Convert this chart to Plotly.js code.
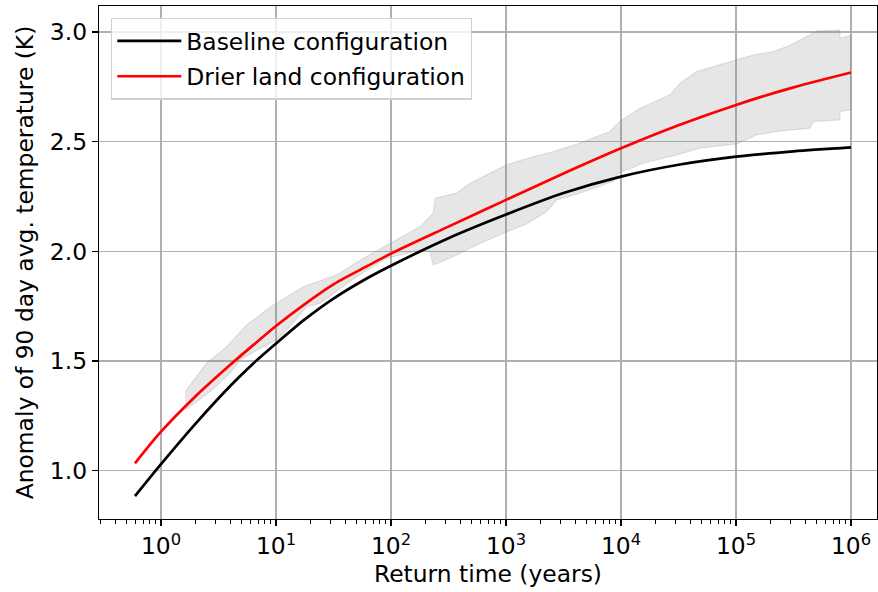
<!DOCTYPE html>
<html>
<head>
<meta charset="utf-8">
<script src="https://cdn.plot.ly/plotly-3.0.1.min.js"></script>
<style>
  html, body { margin: 0; padding: 0; background: #fff; }
  #chart { width: 878px; height: 592px; }
</style>
</head>
<body>
<div id="chart"></div>
<script>
// Return time (years) at which the curves are sampled
const returnTime = [0.594, 1, 2.0, 3.98, 6.31, 10, 17.8, 31.6, 63.1, 100, 316, 1000, 3160, 10000, 31600, 100000, 316000, 1000000];
// Baseline configuration anomaly (K)
const baselineK = [0.884, 1.03, 1.215, 1.385, 1.488, 1.58, 1.69, 1.785, 1.88, 1.935, 2.06, 2.168, 2.266, 2.341, 2.395, 2.432, 2.456, 2.474];
// Drier land configuration anomaly (K)
const drierK = [1.034, 1.178, 1.34, 1.482, 1.572, 1.66, 1.76, 1.85, 1.935, 1.99, 2.113, 2.235, 2.355, 2.47, 2.575, 2.668, 2.748, 2.816];

// Shaded uncertainty band: upper edge
const bandUpperT = [1.62, 2.49, 3.72, 5.56, 8.87, 17.3, 33.7, 57.4, 105, 179, 233, 242, 372, 486, 1010, 1730, 2580, 4400, 6150, 8020, 9770, 14600, 26700, 32600, 45500, 72600, 141600, 211000, 295000, 440000, 501000, 802000, 802000, 1000000];
const bandUpperK = [1.36, 1.49, 1.566, 1.665, 1.745, 1.839, 1.893, 1.969, 2.045, 2.113, 2.174, 2.243, 2.266, 2.311, 2.395, 2.432, 2.455, 2.494, 2.524, 2.547, 2.593, 2.653, 2.714, 2.767, 2.82, 2.851, 2.896, 2.911, 2.94, 2.988, 3.005, 3.01, 2.973, 2.983];
// Shaded uncertainty band: lower edge
const bandLowerT = [1.62, 2.67, 3.98, 4.86, 7.76, 10.1, 13.2, 18.5, 24.2, 50.1, 91.6, 179, 218, 233, 348, 556, 950, 1510, 2260, 2760, 4400, 8570, 9480, 15600, 30500, 48600, 101000, 151000, 226000, 440000, 470000, 802000, 802000, 1000000];
const bandLowerK = [1.277, 1.36, 1.444, 1.505, 1.566, 1.596, 1.657, 1.748, 1.764, 1.885, 1.969, 2.007, 1.999, 1.938, 1.976, 2.03, 2.083, 2.125, 2.182, 2.235, 2.266, 2.32, 2.357, 2.402, 2.44, 2.471, 2.49, 2.531, 2.547, 2.562, 2.592, 2.60, 2.638, 2.645];

// Tick labels
const xTickVals = [1, 10, 100, 1000, 10000, 100000, 1000000];
const xTickText = ['10<sup>0</sup>', '10<sup>1</sup>', '10<sup>2</sup>', '10<sup>3</sup>', '10<sup>4</sup>', '10<sup>5</sup>', '10<sup>6</sup>'];
const yTickVals = [1.0, 1.5, 2.0, 2.5, 3.0];
const yTickText = ['1.0', '1.5', '2.0', '2.5', '3.0'];

// minor tick positions for log axis (2..9 of each decade)
const minorVals = [];
for (let e = -1; e <= 6; e++) {
  for (let m = 2; m <= 9; m++) minorVals.push(m * Math.pow(10, e));
}

const bandX = bandUpperT.concat(bandLowerT.slice().reverse());
const bandY = bandUpperK.concat(bandLowerK.slice().reverse());

const FONT = 'DejaVu Sans, sans-serif';
const FS = 23.4;

const traces = [
  {
    x: bandX, y: bandY, type: 'scatter', mode: 'lines',
    fill: 'toself', fillcolor: 'rgba(128,128,128,0.2)',
    line: {color: 'rgba(128,128,128,0.2)', width: 1.2},
    showlegend: false, hoverinfo: 'skip'
  },
  {
    x: returnTime, y: baselineK, type: 'scatter', mode: 'lines',
    name: 'Baseline configuration', legendgroup: 'a',
    line: {color: '#000000', width: 2.7, shape: 'spline', smoothing: 0.8}
  },
  {
    x: returnTime, y: drierK, type: 'scatter', mode: 'lines',
    name: 'Drier land configuration', legendgroup: 'b',
    line: {color: '#ff0000', width: 2.7, shape: 'spline', smoothing: 0.8}
  }
];

const layout = {
  width: 878, height: 592,
  margin: {l: 99, r: 1, t: 6, b: 73},
  paper_bgcolor: '#ffffff', plot_bgcolor: '#ffffff',
  font: {family: FONT, size: FS, color: '#000'},
  showlegend: true,
  legend: {
    x: 0.0154, y: 0.977, xanchor: 'left', yanchor: 'top',
    bgcolor: 'rgba(255,255,255,0.8)', bordercolor: '#d0d0d0', borderwidth: 1.3,
    itemwidth: 64, traceorder: 'grouped', tracegroupgap: 2,
    font: {family: FONT, size: FS, color: '#000'}
  },
  xaxis: {
    type: 'log', range: [-0.539, 6.226],
    tickmode: 'array', tickvals: xTickVals, ticktext: xTickText,
    ticks: 'outside', ticklen: 6, tickwidth: 1.3, tickcolor: '#000',
    showgrid: true, gridcolor: '#b0b0b0', gridwidth: 1.4,
    showline: true, linecolor: '#000', linewidth: 1.3, mirror: true,
    zeroline: false,
    minor: {tickmode: 'array', tickvals: minorVals, ticks: 'outside', ticklen: 3.5, tickwidth: 1, tickcolor: '#000', showgrid: false},
    tickfont: {family: FONT, size: FS},
    title: {text: 'Return time (years)', font: {family: FONT, size: FS}, standoff: 5}
  },
  yaxis: {
    range: [0.78, 3.119],
    tickmode: 'array', tickvals: yTickVals, ticktext: yTickText,
    ticks: 'outside', ticklen: 6, tickwidth: 1.3, tickcolor: '#000',
    showgrid: true, gridcolor: '#b0b0b0', gridwidth: 1.4,
    showline: true, linecolor: '#000', linewidth: 1.3, mirror: true,
    zeroline: false,
    tickfont: {family: FONT, size: FS},
    title: {text: 'Anomaly of 90 day avg. temperature (K)', font: {family: FONT, size: FS}, standoff: 9}
  }
};

Plotly.newPlot('chart', traces, layout, {displayModeBar: false, staticPlot: true});
</script>
</body>
</html>
